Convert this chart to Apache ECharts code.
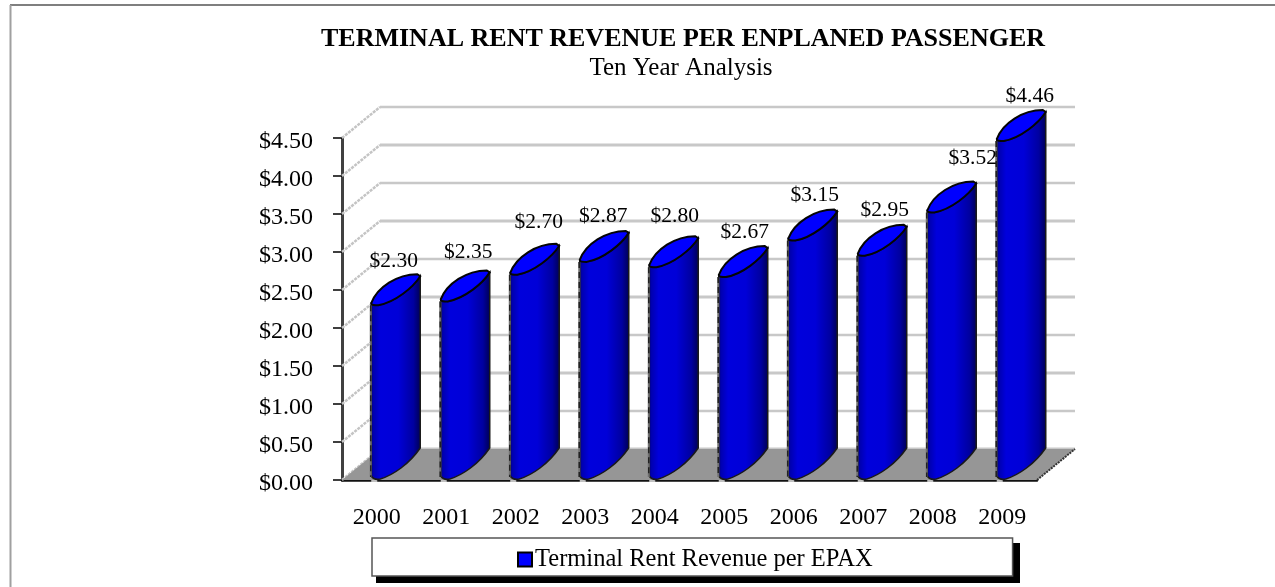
<!DOCTYPE html>
<html><head><meta charset="utf-8">
<style>html,body{margin:0;padding:0;background:#fff}#c{width:1275px;height:587px}</style>
<script src="https://cdn.jsdelivr.net/npm/echarts@6/dist/echarts.min.js"></script>
</head><body><div id="c"></div>
<script>
const years = ['2000','2001','2002','2003','2004','2005','2006','2007','2008','2009'];
const revenue = [2.30,2.35,2.70,2.87,2.80,2.67,3.15,2.95,3.52,4.46];
const yTicks = [0,0.5,1,1.5,2,2.5,3,3.5,4,4.5];
const seriesName = 'Terminal Rent Revenue per EPAX';
const titleText = 'TERMINAL RENT REVENUE PER ENPLANED PASSENGER';
const subtitleText = 'Ten Year Analysis';

const FONT = '"Liberation Serif","Times New Roman",serif';
const DX = 38, DY = -31;            // depth projection of the 3D box
const BW = 49, BD = 29;             // cylinder width and slant rise
const labelNudge = [[-2,-44],[3,-49],[4,-52],[-1,-46],[1,-51],[1.5,-45],[2,-45],[2.5,-45],[21,-54.5],[8.5,-45]];

function wallItem(params, api){
  const cs = params.coordSys;
  const v = api.value(0);
  const p = api.coord([0, v]);
  const x0 = cs.x, y = p[1];
  const x1 = x0 + cs.width;
  return {type:'group', children:[
    {type:'line', shape:{x1:x0,y1:y,x2:x0+DX,y2:y+DY}, style:{stroke:'#c4c4c4',lineWidth:2.5,lineDash:[3,1]}},
    {type:'line', shape:{x1:x0+DX,y1:y+DY,x2:x1+DX,y2:y+DY}, style:{stroke:'#c8c8c8',lineWidth:v%1===0?3:2.5}}
  ]};
}
function floorItem(params, api){
  const cs = params.coordSys;
  const y = api.coord([0,0])[1];
  const x0 = cs.x, x1 = cs.x+cs.width;
  return {type:'group', children:[
    {type:'polygon', shape:{points:[[x0,y],[x0+DX,y+DY],[x1+DX,y+DY],[x1,y]]}, style:{fill:'#969696'}},
    {type:'line', shape:{x1:x1,y1:y,x2:x1+DX,y2:y+DY}, style:{stroke:'#333',lineWidth:2,lineDash:[2,1]}}
  ]};
}
function barItem(params, api){
  const c = api.coord([api.value(0), api.value(1)]);
  const base = api.coord([api.value(0), 0]);
  const L = c[0]-5.5, R = L+BW, y0 = c[1], yb = base[1];
  const grad = new echarts.graphic.LinearGradient(0,0,1,0,[
    {offset:0,color:'#000070'},{offset:.06,color:'#0000B0'},{offset:.2,color:'#0000DC'},
    {offset:.55,color:'#0000D8'},{offset:.85,color:'#0000A0'},{offset:1,color:'#000050'}]);
  const lower = `C${R-7} ${y0-18},${L+24} ${y0-3},${L+7} ${y0}`;
  const body = `M${L} ${y0-2}L${L} ${yb-4}C${L+2} ${yb-1},${L+5} ${yb},${L+9} ${yb-1}C${L+22} ${yb-5},${L+38} ${yb-16},${R} ${yb-32}L${R} ${y0-BD}${lower}Z`;
  const top = `M${L} ${y0-2}C${L+6} ${y0-18},${L+26} ${y0-31},${R-3} ${y0-31}L${R} ${y0-BD}${lower}C${L+3} ${y0},${L} ${y0},${L} ${y0-2}Z`;
  return {type:'group', children:[
    {type:'line', shape:{x1:L,y1:yb+1,x2:L+6,y2:yb+1}, style:{stroke:'#c0c0c0',lineWidth:2}},
    {type:'path', shape:{pathData:body}, style:{fill:grad,stroke:'#1a1a1a',lineWidth:1.5}},
    {type:'line', shape:{x1:L-0.5,y1:y0,x2:L-0.5,y2:yb-3}, style:{stroke:'#707070',lineWidth:2}},
    {type:'line', shape:{x1:L-0.5,y1:y0,x2:L-0.5,y2:yb-3}, style:{stroke:'#222',lineWidth:1.5,lineDash:[6,4]}},
    {type:'path', shape:{pathData:top}, style:{fill:'#0000FF',stroke:'#050505',lineWidth:2}}
  ]};
}
function labelItem(params, api){
  const i = api.value(0), v = api.value(1);
  const c = api.coord([i, v]);
  const n = labelNudge[i];
  return {type:'text', x:c[0]+19+n[0], y:c[1]+n[1],
    style:{text:'$'+v.toFixed(2),font:'21.5px '+FONT,fill:'#000',align:'center',verticalAlign:'middle'}};
}
const barData = years.map((y,i)=>[i,revenue[i]]);
const chart = echarts.init(document.getElementById('c'),null,{renderer:'canvas'});
chart.setOption({
  animation:false,
  backgroundColor:'#fff',
  title:[
    {text:titleText,left:678,top:21,textAlign:'center',textStyle:{fontFamily:FONT,fontSize:26,fontWeight:'bold',color:'#000'}},
    {text:subtitleText,left:676,top:51,textAlign:'center',textStyle:{fontFamily:FONT,fontSize:25,fontWeight:'normal',color:'#000'}}
  ],
  grid:{left:342,top:138,width:695,height:342},
  xAxis:{type:'category',data:years,boundaryGap:true,
    axisLine:{lineStyle:{color:'#111',width:2.5}},axisTick:{show:false},
    axisLabel:{fontFamily:FONT,fontSize:24,color:'#000',margin:26}},
  yAxis:{type:'value',min:0,max:4.5,interval:0.5,
    axisLine:{show:true,lineStyle:{color:'#404040',width:3}},
    axisTick:{show:true,length:9,lineStyle:{color:'#000',width:1.5}},
    splitLine:{show:false},
    axisLabel:{color:'#000',margin:29,formatter:v=>'{a|$'+v.toFixed(2)+'}',
      rich:{a:{fontFamily:FONT,fontSize:24,color:'#000',padding:[7,0,0,0]}}}},
  legend:{show:true,left:372,top:538,orient:'horizontal',
    data:[{name:seriesName,icon:'rect',itemStyle:{color:'#0000FF',borderColor:'#000',borderWidth:2}}],
    itemWidth:14,itemHeight:14,itemGap:0,
    padding:[9,140,4,145],
    backgroundColor:'#fff',borderColor:'#555',borderWidth:1.5,
    selectedMode:false,z:5,
    textStyle:{fontFamily:FONT,fontSize:24.5,color:'#000',padding:[0,0,0,-2]}},
  graphic:[
    {type:'line',silent:true,shape:{x1:10,y1:5,x2:1275,y2:5},style:{stroke:'#555',lineWidth:1.5}},
    {type:'line',silent:true,shape:{x1:10.5,y1:5,x2:10.5,y2:587},style:{stroke:'#a0a0a0',lineWidth:2}},
    {type:'rect',silent:true,shape:{x:376,y:543,width:644,height:40},style:{fill:'#000'},z:1}
  ],
  series:[
    {type:'custom',name:'walls',coordinateSystem:'cartesian2d',renderItem:wallItem,data:yTicks.map(v=>[v]),encode:{y:0},z:1,silent:true,clip:false},
    {type:'custom',name:'floor',coordinateSystem:'cartesian2d',renderItem:floorItem,data:[[0]],encode:{y:0},z:2,silent:true,clip:false},
    {type:'custom',name:seriesName,coordinateSystem:'cartesian2d',renderItem:barItem,data:barData,encode:{x:0,y:1},z:3,clip:false,itemStyle:{color:'#0000FF'}},
    {type:'custom',name:'values',coordinateSystem:'cartesian2d',renderItem:labelItem,data:barData,encode:{x:0,y:1},z:4,silent:true,clip:false}
  ]
});
</script></body></html>
